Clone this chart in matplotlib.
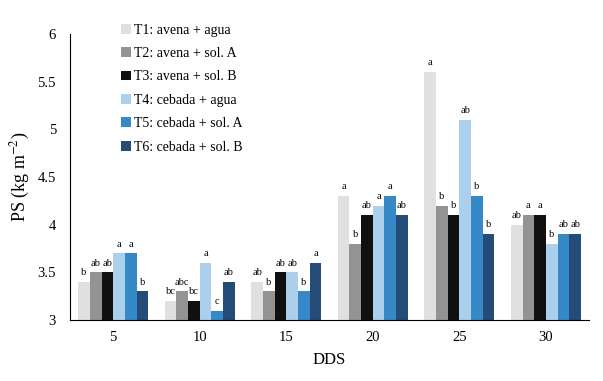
import numpy as np
import matplotlib
matplotlib.use("Agg")
import matplotlib.pyplot as plt

plt.rcParams['font.family'] = ['Liberation Serif', 'DejaVu Serif']
plt.rcParams['mathtext.fontset'] = 'stix'

dds = ["5", "10", "15", "20", "25", "30"]
treatments = ["T1: avena + agua", "T2: avena + sol. A", "T3: avena + sol. B",
              "T4: cebada + agua", "T5: cebada + sol. A", "T6: cebada + sol. B"]
colors = ["#e0e0e0", "#939393", "#101010", "#acd0ec", "#3589c6", "#254b79"]

t1 = [3.4, 3.2, 3.4, 4.3, 5.6, 4.0]
t2 = [3.5, 3.3, 3.3, 3.8, 4.2, 4.1]
t3 = [3.5, 3.2, 3.5, 4.1, 4.1, 4.1]
t4 = [3.7, 3.6, 3.5, 4.2, 5.1, 3.8]
t5 = [3.7, 3.1, 3.3, 4.3, 4.3, 3.9]
t6 = [3.3, 3.4, 3.6, 4.1, 3.9, 3.9]
values = [t1, t2, t3, t4, t5, t6]

l1 = ["b", "bc", "ab", "a", "a", "ab"]
l2 = ["ab", "abc", "b", "b", "b", "a"]
l3 = ["ab", "bc", "ab", "ab", "b", "a"]
l4 = ["a", "a", "ab", "a", "ab", "b"]
l5 = ["a", "c", "b", "a", "b", "ab"]
l6 = ["b", "ab", "a", "ab", "b", "ab"]
letters = [l1, l2, l3, l4, l5, l6]

fig = plt.figure(figsize=(6.03, 3.81), dpi=100)
ax = fig.add_axes([0.116, 0.160, 0.861, 0.751])

x = np.arange(len(dds))
w = 0.135
for i, (vals, lab, c, lets) in enumerate(zip(values, treatments, colors, letters)):
    pos = x + (i - 2.5) * w
    ax.bar(pos, np.array(vals) - 3, width=w, bottom=3, color=c, label=lab)
    for p, v, s in zip(pos, vals, lets):
        ax.text(p, v + 0.05, s, ha='center', va='bottom', fontsize=7.5,
                fontstyle='normal')

ax.set_xlim(-0.5, 5.5)
ax.set_ylim(3, 6)
ax.set_yticks(np.arange(3, 6.01, 0.5))
ax.set_yticklabels(["3", "3.5", "4", "4.5", "5", "5.5", "6"])
ax.set_xticks(x)
ax.set_xticklabels(dds)
ax.tick_params(length=0, labelsize=10.5, pad=10)
ax.tick_params(axis='x', pad=8)
for s in ["top", "right"]:
    ax.spines[s].set_visible(False)
ax.set_xlabel("DDS", fontsize=12, labelpad=6)
ax.set_ylabel("PS (kg m$^{\\mathrm{-2}}$)", fontsize=13, labelpad=4)

ax.legend(loc='upper left', bbox_to_anchor=(0.075, 1.08), frameon=False,
          fontsize=10, handlelength=0.7, handleheight=0.7, handletextpad=0.2,
          labelspacing=0.75)

fig.savefig("out.png", dpi=100)
